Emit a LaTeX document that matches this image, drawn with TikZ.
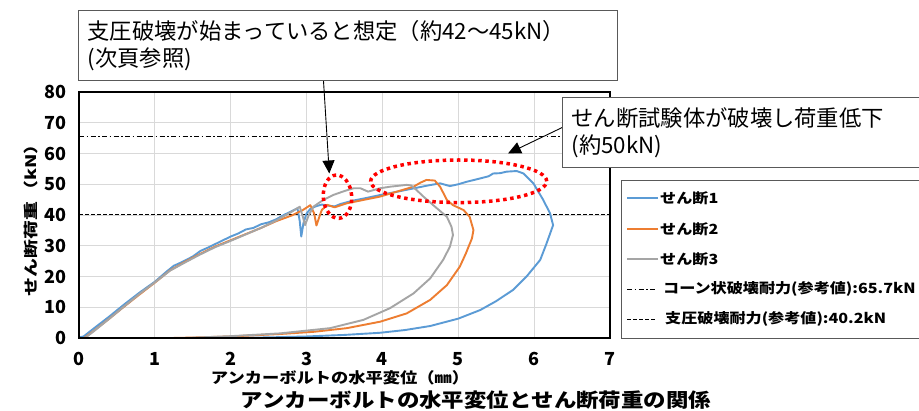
\documentclass[tikz,border=0pt]{standalone}
\usepackage{fontspec}
\setmainfont{Noto Sans CJK JP}
\newfontfamily\jpw[FakeStretch=1.15]{Noto Sans CJK JP}
\newfontfamily\jpv[FakeStretch=1.3]{Noto Sans CJK JP}
\usetikzlibrary{arrows.meta,calc}
\definecolor{s1}{HTML}{5B9BD5}
\definecolor{s2}{HTML}{ED7D31}
\definecolor{s3}{HTML}{A5A5A5}
\definecolor{gridc}{HTML}{D9D9D9}
\definecolor{boxc}{HTML}{595959}
\begin{document}
\begin{tikzpicture}[x=1pt,y=-1pt,
  gridline/.style={gridc, line width=0.9pt},
  frame/.style={black, line width=1.3pt},
  series/.style={line width=1.9pt, line join=round, line cap=round},
  callout/.style={draw=boxc, line width=1.2pt, fill=white, inner xsep=9pt, inner ysep=0pt, font=\fontsize{22.3}{27}\selectfont, align=left},
  arr/.style={black, line width=0.9pt, -{Triangle[width=12pt,length=13pt]}},
  redot/.style={red, line width=3.5pt, dash pattern=on 3.5pt off 3.6pt},
  tick/.style={font=\bfseries\fontsize{18}{18}\selectfont, inner sep=0pt},
  legtext/.style={font=\jpw\bfseries\fontsize{14}{14}\selectfont, anchor=west, inner sep=0pt},
  legline/.style={line width=1.9pt},
  refline/.style={black, line width=0.8pt},
  dashdot/.style={dash pattern=on 5pt off 2.5pt on 1.5pt off 2.5pt},
  dashd/.style={dash pattern=on 3.5pt off 2.5pt},
]
\fill[white] (0,0) rectangle (919,411);
\useasboundingbox (0,0) rectangle (919,411);

% ---------- plot ----------
\begin{scope}[shift={(79,338)}, x={(75.857pt,0pt)}, y={(0pt,3.075pt)}]
 \foreach \i in {1,...,6} \draw[gridline] (\i,0) -- (\i,80);
 \foreach \v in {10,20,...,70} \draw[gridline] (0,\v) -- (7,\v);
 \draw[refline, dashdot] (0,65.7) -- (7,65.7);
 \draw[refline, dashd] (0,40.2) -- (7,40.2);
 \draw[series, s1] plot coordinates {(0,0.2) (0.06,0.5) (0.2,3.2) (0.4,7.0) (0.6,11.0) (0.8,14.8) (1.0,18.3) (1.15,21.5) (1.25,23.5) (1.35,24.6) (1.5,26.5) (1.6,28.3) (1.7,29.4) (1.8,30.6) (1.9,31.8) (2.0,33.0) (2.1,34.0) (2.2,35.3) (2.3,35.8) (2.4,37.0) (2.5,37.6) (2.6,38.6) (2.7,40.0) (2.8,41.2) (2.88,42.2) (2.91,38) (2.93,33.0) (2.96,37.5) (3.0,40.5) (3.05,42.0) (3.12,42.8) (3.2,43.4) (3.3,43.0) (3.37,42.8) (3.45,43.6) (3.6,44.6) (3.8,45.6) (3.97,46.5) (4.2,47.6) (4.4,48.6) (4.6,49.6) (4.76,50.3) (4.89,49.4) (5.0,50.0) (5.11,50.8) (5.29,51.9) (5.4,52.6) (5.46,53.5) (5.55,53.6) (5.64,54.1) (5.77,54.3) (5.86,53.5) (5.92,52.0) (5.99,50.3) (6.05,47.8) (6.12,44.9) (6.21,40.5) (6.25,36.7) (6.16,30.5) (6.08,25.4) (5.9,20.0) (5.72,15.6) (5.5,12.0) (5.29,9.1) (5.0,6.3) (4.63,3.9) (4.3,2.6) (3.97,1.7) (3.5,1.0) (3.0,0.5) (2.5,0.2) (2.0,0.05) (1.77,0)};
 \draw[series, s2] plot coordinates {(0.07,0) (0.2,2.4) (0.4,6.3) (0.6,10.3) (0.8,14.2) (1.0,18.0) (1.2,22.0) (1.4,24.8) (1.6,27.4) (1.8,29.8) (2.0,31.8) (2.2,33.8) (2.4,35.8) (2.6,38.0) (2.8,39.8) (2.95,41.6) (3.05,43.2) (3.1,40.5) (3.13,36.6) (3.17,39.5) (3.2,41.6) (3.27,43.3) (3.37,42.5) (3.53,43.8) (3.75,44.9) (3.97,46.0) (4.19,47.6) (4.41,49.2) (4.5,50.5) (4.58,51.4) (4.69,51.2) (4.76,49.2) (4.85,44.9) (4.93,43.2) (5.07,41.6) (5.15,39.4) (5.2,35.1) (5.18,32.4) (5.1,27.5) (5.02,23.2) (4.85,17.2) (4.63,12.4) (4.32,8.0) (3.97,5.3) (3.53,3.2) (3.09,2.0) (2.65,1.3) (2.0,0.5) (1.5,0.15) (1.22,0)};
 \draw[series, s3] plot coordinates {(0.08,0) (0.2,2.3) (0.4,6.3) (0.6,10.4) (0.8,14.4) (1.0,18.1) (1.2,21.9) (1.4,24.6) (1.6,27.2) (1.8,29.6) (2.0,31.6) (2.2,33.7) (2.4,35.8) (2.6,38.2) (2.8,41.0) (2.91,42.7) (2.95,39.5) (2.98,36.7) (3.03,40) (3.09,42.7) (3.22,44.9) (3.35,46.5) (3.5,47.8) (3.62,48.7) (3.71,48.7) (3.81,47.6) (3.97,48.7) (4.1,49.2) (4.32,49.8) (4.38,49.6) (4.45,48.1) (4.54,46.0) (4.67,43.2) (4.85,39.4) (4.91,36.2) (4.93,33.5) (4.89,29.7) (4.8,25.4) (4.63,19.4) (4.41,14.5) (4.1,9.7) (3.75,5.9) (3.31,3.2) (2.65,1.5) (2.0,0.6) (1.4,0)};
 \draw[frame] (0,0) rectangle (7,80);
 \foreach \v in {0,10,...,80} \node[tick, anchor=east] (yt\v) at (-0.16,\v) {\v};
 \foreach \i in {0,...,7} \node[tick] (xt\i) at (\i,-6.9) {\i};
\end{scope}

% ---------- axis titles ----------
\node[font=\jpw\bfseries\fontsize{15}{15}\selectfont, inner sep=0pt] (xtitle) at (340,378) {アンカーボルトの水平変位（㎜）};
\node[font=\jpv\bfseries\fontsize{14.5}{14.5}\selectfont, inner sep=0pt, rotate=90] (ytitle) at (31,216) {せん断荷重\,（kN）};
\node[font=\jpw\bfseries\fontsize{19.5}{19.5}\selectfont, inner sep=0pt] (title) at (476,400) {アンカーボルトの水平変位とせん断荷重の関係};

% ---------- red dotted ellipses ----------
\draw[redot, rotate around={4:(337.5,196.7)}] (337.5,196.7) ellipse [x radius=14.2pt, y radius=21.7pt];
\draw[redot] (458.7,181.3) ellipse [x radius=88pt, y radius=21.3pt];

% ---------- legend ----------
\node[draw=boxc, line width=1.2pt, fill=white, minimum width=309pt, minimum height=158pt, anchor=north west, inner sep=0pt] (leg) at (621,180) {};
\coordinate (ls1) at (627,198); \coordinate (le1) at (658,198);
\coordinate (ls2) at (627,229); \coordinate (le2) at (658,229);
\coordinate (ls3) at (627,259); \coordinate (le3) at (658,259);
\coordinate (ls4) at (627,289); \coordinate (le4) at (656,289);
\coordinate (ls5) at (627,319); \coordinate (le5) at (656,319);
\draw[legline, s1] (ls1) -- (le1);
\draw[legline, s2] (ls2) -- (le2);
\draw[legline, s3] (ls3) -- (le3);
\draw[refline, dashdot] (ls4) -- (le4);
\draw[refline, dashd] (ls5) -- (le5);
\node[legtext] (lt1) at (660,198) {せん断1};
\node[legtext] (lt2) at (660,229) {せん断2};
\node[legtext] (lt3) at (660,259) {せん断3};
\node[legtext] (lt4) at (663,289) {コーン状破壊耐力(参考値):65.7kN};
\node[legtext] (lt5) at (665,319) {支圧破壊耐力(参考値):40.2kN};

% ---------- callouts ----------
\node[callout, anchor=north west, minimum width=539pt, minimum height=70pt, text width=521pt] (c1) at (78,10) {支圧破壊が始まっていると想定（約42～45kN）\\(次頁参照)};
\node[callout, anchor=north west, minimum width=363pt, minimum height=70pt, text width=345pt] (c2) at (562,97) {せん断試験体が破壊し荷重低下\\(約50kN)};
\coordinate (t1) at (329.3,173.5);
\coordinate (t2) at (508,153.5);
\draw[arr] ($(c1.south west)!0.4545!(c1.south east)$) -- (t1);
\draw[arr] ($(c2.north west)!0.43!(c2.south west)$) -- (t2);
\end{tikzpicture}
\end{document}
